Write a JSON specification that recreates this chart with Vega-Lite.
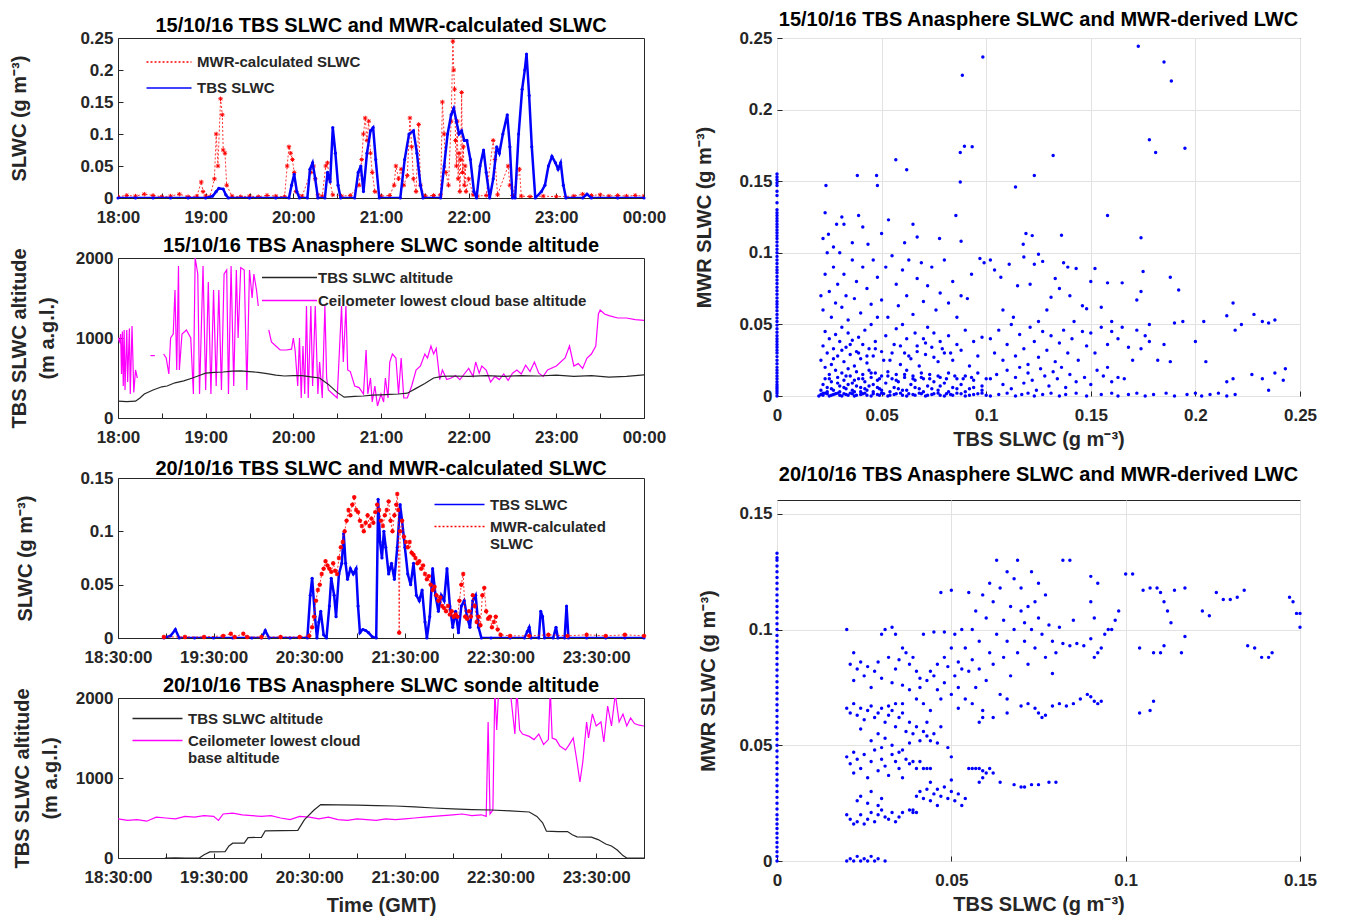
{
  "$schema": "https://vega.github.io/schema/vega-lite/v6.json",
  "background": "white",
  "padding": {"left": 8, "right": 5, "top": 9, "bottom": 3},
  "config": {
    "font": "Liberation Sans",
    "view": {"stroke": "#262626", "strokeWidth": 1},
    "axis": {
      "labelFont": "Liberation Sans", "labelFontSize": 17, "labelFontWeight": "bold", "labelColor": "#262626",
      "titleFont": "Liberation Sans", "titleFontSize": 20, "titleFontWeight": "bold", "titleColor": "#262626", "titleLineHeight": 28,
      "domain": false, "tickColor": "#262626", "tickSize": -5, "grid": false, "labelOverlap": false, "labelFlush": false
    },
    "axisX": {"labelPadding": 16, "titlePadding": 6},
    "axisY": {"labelPadding": 10},
    "title": {"font": "Liberation Sans", "fontSize": 20, "fontWeight": "bold", "color": "black"},
    "legend": {
      "labelFont": "Liberation Sans", "labelFontSize": 15, "labelFontWeight": "bold", "labelColor": "#262626",
      "labelLimit": 400, "symbolType": "M-2,0H2", "symbolStrokeWidth": 1.5, "padding": 4, "rowPadding": 0
    }
  },
  "datasets": {
    "a_tbs": [
      {"t":18.0,"v":0},{"t":18.2,"v":0},{"t":18.4,"v":0},{"t":18.6,"v":0},{"t":18.8,"v":0},{"t":19.0,"v":0},{"t":19.08,"v":0.003},{"t":19.12,"v":0.01},{"t":19.15,"v":0.015},{"t":19.2,"v":0.014},{"t":19.23,"v":0.005},{"t":19.26,"v":0},{"t":19.5,"v":0},{"t":19.8,"v":0},{"t":19.95,"v":0},{"t":19.98,"v":0.02},{"t":20.01,"v":0.037},{"t":20.04,"v":0.01},{"t":20.07,"v":0},{"t":20.16,"v":0},{"t":20.19,"v":0.045},{"t":20.22,"v":0.055},{"t":20.25,"v":0.03},{"t":20.28,"v":0},{"t":20.36,"v":0},{"t":20.39,"v":0.04},{"t":20.42,"v":0.025},{"t":20.45,"v":0.11},{"t":20.48,"v":0.07},{"t":20.51,"v":0.02},{"t":20.54,"v":0},{"t":20.7,"v":0},{"t":20.74,"v":0.04},{"t":20.77,"v":0.05},{"t":20.8,"v":0.01},{"t":20.84,"v":0.07},{"t":20.88,"v":0.105},{"t":20.91,"v":0.11},{"t":20.94,"v":0.06},{"t":20.98,"v":0},{"t":21.22,"v":0},{"t":21.27,"v":0.06},{"t":21.32,"v":0.1},{"t":21.37,"v":0.105},{"t":21.41,"v":0.07},{"t":21.45,"v":0.02},{"t":21.48,"v":0},{"t":21.68,"v":0},{"t":21.72,"v":0.05},{"t":21.76,"v":0.1},{"t":21.8,"v":0.13},{"t":21.83,"v":0.14},{"t":21.86,"v":0.12},{"t":21.89,"v":0.1},{"t":21.92,"v":0.105},{"t":21.95,"v":0.09},{"t":21.98,"v":0.09},{"t":22.02,"v":0.06},{"t":22.06,"v":0.01},{"t":22.09,"v":0},{"t":22.13,"v":0.05},{"t":22.17,"v":0.075},{"t":22.2,"v":0.04},{"t":22.24,"v":0},{"t":22.28,"v":0.03},{"t":22.32,"v":0.08},{"t":22.35,"v":0.07},{"t":22.39,"v":0.1},{"t":22.44,"v":0.13},{"t":22.47,"v":0.08},{"t":22.5,"v":0},{"t":22.53,"v":0},{"t":22.57,"v":0.1},{"t":22.61,"v":0.17},{"t":22.64,"v":0.2},{"t":22.66,"v":0.225},{"t":22.69,"v":0.16},{"t":22.72,"v":0.08},{"t":22.76,"v":0},{"t":22.83,"v":0.01},{"t":22.87,"v":0.02},{"t":22.91,"v":0.05},{"t":22.95,"v":0.065},{"t":22.99,"v":0.055},{"t":23.02,"v":0.045},{"t":23.05,"v":0.055},{"t":23.08,"v":0.02},{"t":23.11,"v":0},{"t":23.3,"v":0},{"t":23.35,"v":0.006},{"t":23.4,"v":0},{"t":23.7,"v":0},{"t":24.0,"v":0}
    ],
    "a_mwr": [
      {"t":18.0,"v":0.002},{"t":18.1,"v":0.004},{"t":18.2,"v":0.003},{"t":18.3,"v":0.006},{"t":18.4,"v":0.004},{"t":18.5,"v":0.002},{"t":18.6,"v":0.003},{"t":18.7,"v":0.006},{"t":18.8,"v":0.002},{"t":18.9,"v":0.003},{"t":18.95,"v":0.025},{"t":18.97,"v":0.01},{"t":19.0,"v":0.003},{"t":19.05,"v":0.002},{"t":19.1,"v":0.03},{"t":19.12,"v":0.1},{"t":19.14,"v":0.05},{"t":19.17,"v":0.155},{"t":19.19,"v":0.13},{"t":19.2,"v":0.075},{"t":19.22,"v":0.07},{"t":19.24,"v":0.02},{"t":19.3,"v":0.003},{"t":19.4,"v":0.002},{"t":19.5,"v":0.003},{"t":19.6,"v":0.002},{"t":19.7,"v":0.004},{"t":19.8,"v":0.003},{"t":19.9,"v":0.002},{"t":19.93,"v":0.05},{"t":19.95,"v":0.08},{"t":19.97,"v":0.07},{"t":19.99,"v":0.06},{"t":20.01,"v":0.04},{"t":20.03,"v":0.01},{"t":20.1,"v":0.003},{"t":20.2,"v":0.04},{"t":20.23,"v":0.05},{"t":20.25,"v":0.03},{"t":20.28,"v":0.005},{"t":20.33,"v":0.003},{"t":20.37,"v":0.05},{"t":20.39,"v":0.055},{"t":20.41,"v":0.03},{"t":20.45,"v":0.005},{"t":20.55,"v":0.003},{"t":20.65,"v":0.004},{"t":20.75,"v":0.02},{"t":20.78,"v":0.06},{"t":20.8,"v":0.1},{"t":20.82,"v":0.125},{"t":20.84,"v":0.09},{"t":20.86,"v":0.12},{"t":20.88,"v":0.07},{"t":20.9,"v":0.04},{"t":20.93,"v":0.01},{"t":21.0,"v":0.003},{"t":21.1,"v":0.004},{"t":21.15,"v":0.02},{"t":21.17,"v":0.05},{"t":21.2,"v":0.03},{"t":21.23,"v":0.045},{"t":21.26,"v":0.02},{"t":21.3,"v":0.035},{"t":21.33,"v":0.125},{"t":21.35,"v":0.08},{"t":21.37,"v":0.03},{"t":21.4,"v":0.01},{"t":21.43,"v":0.115},{"t":21.45,"v":0.02},{"t":21.5,"v":0.003},{"t":21.6,"v":0.004},{"t":21.68,"v":0.005},{"t":21.7,"v":0.15},{"t":21.72,"v":0.1},{"t":21.74,"v":0.04},{"t":21.77,"v":0.02},{"t":21.8,"v":0.12},{"t":21.82,"v":0.245},{"t":21.83,"v":0.2},{"t":21.84,"v":0.17},{"t":21.85,"v":0.09},{"t":21.86,"v":0.05},{"t":21.87,"v":0.12},{"t":21.88,"v":0.03},{"t":21.89,"v":0.07},{"t":21.9,"v":0.01},{"t":21.91,"v":0.06},{"t":21.92,"v":0.165},{"t":21.93,"v":0.04},{"t":21.94,"v":0.08},{"t":21.95,"v":0.02},{"t":21.96,"v":0.05},{"t":21.97,"v":0.01},{"t":22.0,"v":0.03},{"t":22.05,"v":0.005},{"t":22.1,"v":0.003},{"t":22.2,"v":0.004},{"t":22.28,"v":0.09},{"t":22.3,"v":0.06},{"t":22.33,"v":0.005},{"t":22.45,"v":0.05},{"t":22.47,"v":0.02},{"t":22.5,"v":0.004},{"t":22.58,"v":0.045},{"t":22.6,"v":0.003},{"t":22.7,"v":0.002},{"t":22.85,"v":0.003},{"t":23.0,"v":0.002},{"t":23.2,"v":0.003},{"t":23.3,"v":0.006},{"t":23.4,"v":0.004},{"t":23.5,"v":0.005},{"t":23.6,"v":0.003},{"t":23.7,"v":0.004},{"t":23.8,"v":0.003},{"t":23.9,"v":0.004},{"t":24.0,"v":0.003}
    ],
    "b_tbs": [
      {"t":18.0,"v":210},{"t":18.1,"v":205},{"t":18.2,"v":210},{"t":18.25,"v":250},{"t":18.3,"v":300},{"t":18.4,"v":350},{"t":18.5,"v":390},{"t":18.56,"v":400},{"t":18.65,"v":440},{"t":18.75,"v":465},{"t":18.85,"v":500},{"t":18.95,"v":540},{"t":19.0,"v":560},{"t":19.1,"v":570},{"t":19.2,"v":575},{"t":19.3,"v":585},{"t":19.4,"v":590},{"t":19.5,"v":580},{"t":19.6,"v":570},{"t":19.7,"v":555},{"t":19.8,"v":535},{"t":19.9,"v":525},{"t":20.0,"v":530},{"t":20.1,"v":530},{"t":20.2,"v":515},{"t":20.3,"v":500},{"t":20.4,"v":420},{"t":20.5,"v":320},{"t":20.58,"v":260},{"t":20.7,"v":270},{"t":20.8,"v":275},{"t":20.9,"v":285},{"t":21.0,"v":290},{"t":21.1,"v":295},{"t":21.2,"v":300},{"t":21.3,"v":310},{"t":21.4,"v":370},{"t":21.5,"v":430},{"t":21.6,"v":500},{"t":21.7,"v":520},{"t":21.8,"v":525},{"t":22.0,"v":520},{"t":22.2,"v":530},{"t":22.4,"v":520},{"t":22.6,"v":530},{"t":22.8,"v":525},{"t":23.0,"v":535},{"t":23.2,"v":520},{"t":23.4,"v":530},{"t":23.6,"v":510},{"t":23.8,"v":520},{"t":24.0,"v":540}
    ],
    "b_ceil": [
      {"g":1,"t":18.0,"v":1000},{"g":1,"t":18.02,"v":950},{"g":1,"t":18.03,"v":1050},{"g":1,"t":18.04,"v":550},{"g":1,"t":18.05,"v":1080},{"g":1,"t":18.06,"v":400},{"g":1,"t":18.07,"v":1100},{"g":1,"t":18.08,"v":350},{"g":1,"t":18.1,"v":1100},{"g":1,"t":18.11,"v":450},{"g":1,"t":18.13,"v":1120},{"g":1,"t":18.14,"v":300},{"g":1,"t":18.16,"v":1150},{"g":1,"t":18.18,"v":320},{"g":1,"t":18.2,"v":600},{"g":1,"t":18.22,"v":500},
      {"g":2,"t":18.37,"v":780},{"g":2,"t":18.42,"v":780},
      {"g":3,"t":18.52,"v":800},{"g":3,"t":18.55,"v":750},{"g":3,"t":18.58,"v":550},{"g":3,"t":18.6,"v":1000},{"g":3,"t":18.63,"v":1050},{"g":3,"t":18.65,"v":1600},{"g":3,"t":18.67,"v":600},{"g":3,"t":18.69,"v":1900},{"g":3,"t":18.7,"v":600},{"g":3,"t":18.73,"v":1050},{"g":3,"t":18.78,"v":1100},{"g":3,"t":18.83,"v":1000},{"g":3,"t":18.86,"v":300},{"g":3,"t":18.88,"v":2000},{"g":3,"t":18.91,"v":1800},{"g":3,"t":18.93,"v":300},{"g":3,"t":18.97,"v":1900},{"g":3,"t":19.0,"v":350},{"g":3,"t":19.03,"v":1700},{"g":3,"t":19.06,"v":300},{"g":3,"t":19.09,"v":1600},{"g":3,"t":19.12,"v":400},{"g":3,"t":19.15,"v":1600},{"g":3,"t":19.18,"v":350},{"g":3,"t":19.21,"v":1800},{"g":3,"t":19.24,"v":1850},{"g":3,"t":19.26,"v":300},{"g":3,"t":19.29,"v":1900},{"g":3,"t":19.32,"v":400},{"g":3,"t":19.35,"v":1850},{"g":3,"t":19.37,"v":1000},{"g":3,"t":19.4,"v":1880},{"g":3,"t":19.44,"v":1850},{"g":3,"t":19.47,"v":350},{"g":3,"t":19.5,"v":1850},{"g":3,"t":19.53,"v":1500},{"g":3,"t":19.55,"v":1800},{"g":3,"t":19.58,"v":1600},{"g":3,"t":19.6,"v":1400},
      {"g":4,"t":19.72,"v":1100},{"g":4,"t":19.75,"v":950},{"g":4,"t":19.8,"v":900},{"g":4,"t":19.85,"v":850},{"g":4,"t":19.92,"v":850},{"g":4,"t":19.98,"v":860},{"g":4,"t":20.0,"v":1000},{"g":4,"t":20.02,"v":850},{"g":4,"t":20.05,"v":400},{"g":4,"t":20.07,"v":1000},{"g":4,"t":20.09,"v":250},{"g":4,"t":20.11,"v":900},{"g":4,"t":20.13,"v":300},{"g":4,"t":20.15,"v":1400},{"g":4,"t":20.17,"v":250},{"g":4,"t":20.2,"v":1400},{"g":4,"t":20.22,"v":400},{"g":4,"t":20.25,"v":1400},{"g":4,"t":20.28,"v":300},{"g":4,"t":20.3,"v":700},{"g":4,"t":20.33,"v":250},{"g":4,"t":20.36,"v":1400},{"g":4,"t":20.38,"v":500},{"g":4,"t":20.4,"v":350},{"g":4,"t":20.45,"v":300},{"g":4,"t":20.5,"v":250},{"g":4,"t":20.55,"v":1400},{"g":4,"t":20.57,"v":700},{"g":4,"t":20.6,"v":1400},{"g":4,"t":20.62,"v":600},{"g":4,"t":20.65,"v":580},{"g":4,"t":20.7,"v":400},{"g":4,"t":20.75,"v":380},{"g":4,"t":20.8,"v":300},{"g":4,"t":20.83,"v":850},{"g":4,"t":20.85,"v":300},{"g":4,"t":20.88,"v":500},{"g":4,"t":20.9,"v":200},{"g":4,"t":20.93,"v":400},{"g":4,"t":20.96,"v":150},{"g":4,"t":21.0,"v":300},{"g":4,"t":21.03,"v":200},{"g":4,"t":21.05,"v":500},{"g":4,"t":21.08,"v":250},{"g":4,"t":21.1,"v":700},{"g":4,"t":21.13,"v":800},{"g":4,"t":21.17,"v":750},{"g":4,"t":21.2,"v":300},{"g":4,"t":21.23,"v":750},{"g":4,"t":21.26,"v":250},{"g":4,"t":21.3,"v":250},{"g":4,"t":21.35,"v":400},{"g":4,"t":21.4,"v":600},{"g":4,"t":21.45,"v":650},{"g":4,"t":21.5,"v":800},{"g":4,"t":21.53,"v":750},{"g":4,"t":21.57,"v":900},{"g":4,"t":21.6,"v":800},{"g":4,"t":21.63,"v":870},{"g":4,"t":21.67,"v":480},{"g":4,"t":21.7,"v":600},{"g":4,"t":21.75,"v":480},{"g":4,"t":21.8,"v":500},{"g":4,"t":21.85,"v":530},{"g":4,"t":21.9,"v":480},{"g":4,"t":21.95,"v":550},{"g":4,"t":22.0,"v":620},{"g":4,"t":22.05,"v":520},{"g":4,"t":22.08,"v":700},{"g":4,"t":22.12,"v":560},{"g":4,"t":22.15,"v":650},{"g":4,"t":22.2,"v":600},{"g":4,"t":22.25,"v":450},{"g":4,"t":22.3,"v":520},{"g":4,"t":22.35,"v":480},{"g":4,"t":22.4,"v":550},{"g":4,"t":22.45,"v":470},{"g":4,"t":22.5,"v":560},{"g":4,"t":22.55,"v":600},{"g":4,"t":22.6,"v":550},{"g":4,"t":22.65,"v":660},{"g":4,"t":22.7,"v":580},{"g":4,"t":22.75,"v":700},{"g":4,"t":22.8,"v":560},{"g":4,"t":22.85,"v":520},{"g":4,"t":22.9,"v":600},{"g":4,"t":23.0,"v":650},{"g":4,"t":23.1,"v":750},{"g":4,"t":23.15,"v":900},{"g":4,"t":23.2,"v":650},{"g":4,"t":23.25,"v":680},{"g":4,"t":23.3,"v":620},{"g":4,"t":23.35,"v":750},{"g":4,"t":23.4,"v":800},{"g":4,"t":23.45,"v":900},{"g":4,"t":23.48,"v":1300},{"g":4,"t":23.5,"v":1350},{"g":4,"t":23.55,"v":1300},{"g":4,"t":23.6,"v":1280},{"g":4,"t":23.7,"v":1250},{"g":4,"t":23.8,"v":1250},{"g":4,"t":23.9,"v":1230},{"g":4,"t":24.0,"v":1220}
    ],
    "d_tbs": [
      {"t":18.98,"v":0},{"t":19.05,"v":0.002},{"t":19.1,"v":0.008},{"t":19.14,"v":0},{"t":19.3,"v":0},{"t":19.5,"v":0},{"t":19.7,"v":0},{"t":19.9,"v":0},{"t":20.0,"v":0},{"t":20.04,"v":0.007},{"t":20.08,"v":0},{"t":20.3,"v":0},{"t":20.48,"v":0},{"t":20.51,"v":0.04},{"t":20.53,"v":0.056},{"t":20.56,"v":0.02},{"t":20.58,"v":0},{"t":20.6,"v":0.015},{"t":20.62,"v":0.025},{"t":20.65,"v":0.003},{"t":20.68,"v":0},{"t":20.71,"v":0.03},{"t":20.73,"v":0.056},{"t":20.76,"v":0.04},{"t":20.78,"v":0.02},{"t":20.81,"v":0.06},{"t":20.84,"v":0.07},{"t":20.86,"v":0.098},{"t":20.88,"v":0.07},{"t":20.9,"v":0.055},{"t":20.93,"v":0.065},{"t":20.96,"v":0.06},{"t":20.99,"v":0.065},{"t":21.01,"v":0.03},{"t":21.03,"v":0.005},{"t":21.06,"v":0.008},{"t":21.09,"v":0.007},{"t":21.12,"v":0.005},{"t":21.16,"v":0.001},{"t":21.2,"v":0},{"t":21.22,"v":0.13},{"t":21.24,"v":0.09},{"t":21.26,"v":0.075},{"t":21.28,"v":0.1},{"t":21.3,"v":0.085},{"t":21.33,"v":0.06},{"t":21.36,"v":0.07},{"t":21.39,"v":0.055},{"t":21.42,"v":0.085},{"t":21.45,"v":0.125},{"t":21.47,"v":0.11},{"t":21.5,"v":0.085},{"t":21.53,"v":0.06},{"t":21.56,"v":0.05},{"t":21.59,"v":0.07},{"t":21.62,"v":0.04},{"t":21.65,"v":0.035},{"t":21.68,"v":0.045},{"t":21.71,"v":0.015},{"t":21.73,"v":0},{"t":21.76,"v":0.02},{"t":21.79,"v":0.065},{"t":21.82,"v":0.04},{"t":21.85,"v":0.025},{"t":21.88,"v":0.04},{"t":21.91,"v":0.035},{"t":21.94,"v":0.065},{"t":21.97,"v":0.03},{"t":22.0,"v":0.01},{"t":22.03,"v":0.025},{"t":22.06,"v":0.005},{"t":22.09,"v":0.03},{"t":22.12,"v":0.035},{"t":22.15,"v":0.02},{"t":22.18,"v":0.01},{"t":22.21,"v":0.035},{"t":22.24,"v":0.04},{"t":22.27,"v":0.01},{"t":22.3,"v":0},{"t":22.4,"v":0},{"t":22.6,"v":0},{"t":22.75,"v":0},{"t":22.78,"v":0.006},{"t":22.8,"v":0.01},{"t":22.82,"v":0},{"t":22.9,"v":0},{"t":22.92,"v":0.025},{"t":22.94,"v":0.02},{"t":22.96,"v":0},{"t":23.05,"v":0},{"t":23.08,"v":0.01},{"t":23.1,"v":0},{"t":23.17,"v":0},{"t":23.19,"v":0.03},{"t":23.21,"v":0},{"t":23.4,"v":0},{"t":23.6,"v":0},{"t":23.8,"v":0},{"t":24.0,"v":0}
    ],
    "d_mwr": [
      {"t":18.98,"v":0.001},{"t":19.2,"v":0.001},{"t":19.4,"v":0.001},{"t":19.6,"v":0.002},{"t":19.68,"v":0.004},{"t":19.72,"v":0.001},{"t":19.81,"v":0.004},{"t":19.85,"v":0.001},{"t":20.0,"v":0.001},{"t":20.2,"v":0.001},{"t":20.4,"v":0.001},{"t":20.5,"v":0.002},{"t":20.53,"v":0.01},{"t":20.55,"v":0.02},{"t":20.57,"v":0.035},{"t":20.59,"v":0.045},{"t":20.61,"v":0.05},{"t":20.63,"v":0.06},{"t":20.65,"v":0.065},{"t":20.67,"v":0.072},{"t":20.69,"v":0.068},{"t":20.71,"v":0.065},{"t":20.73,"v":0.062},{"t":20.75,"v":0.07},{"t":20.77,"v":0.063},{"t":20.79,"v":0.06},{"t":20.81,"v":0.075},{"t":20.83,"v":0.085},{"t":20.85,"v":0.09},{"t":20.87,"v":0.1},{"t":20.89,"v":0.11},{"t":20.91,"v":0.12},{"t":20.93,"v":0.115},{"t":20.95,"v":0.125},{"t":20.97,"v":0.132},{"t":20.99,"v":0.12},{"t":21.01,"v":0.118},{"t":21.03,"v":0.11},{"t":21.05,"v":0.105},{"t":21.07,"v":0.1},{"t":21.09,"v":0.108},{"t":21.11,"v":0.115},{"t":21.13,"v":0.105},{"t":21.15,"v":0.112},{"t":21.17,"v":0.108},{"t":21.19,"v":0.118},{"t":21.21,"v":0.125},{"t":21.23,"v":0.12},{"t":21.25,"v":0.11},{"t":21.27,"v":0.105},{"t":21.29,"v":0.115},{"t":21.31,"v":0.12},{"t":21.33,"v":0.128},{"t":21.35,"v":0.11},{"t":21.37,"v":0.1},{"t":21.39,"v":0.115},{"t":21.41,"v":0.125},{"t":21.42,"v":0.135},{"t":21.43,"v":0.12},{"t":21.44,"v":0.005},{"t":21.45,"v":0.1},{"t":21.47,"v":0.11},{"t":21.49,"v":0.095},{"t":21.51,"v":0.09},{"t":21.53,"v":0.085},{"t":21.55,"v":0.09},{"t":21.57,"v":0.08},{"t":21.59,"v":0.078},{"t":21.61,"v":0.075},{"t":21.63,"v":0.07},{"t":21.65,"v":0.072},{"t":21.67,"v":0.065},{"t":21.69,"v":0.068},{"t":21.71,"v":0.06},{"t":21.73,"v":0.055},{"t":21.75,"v":0.058},{"t":21.77,"v":0.05},{"t":21.79,"v":0.045},{"t":21.81,"v":0.048},{"t":21.83,"v":0.04},{"t":21.85,"v":0.035},{"t":21.87,"v":0.038},{"t":21.89,"v":0.03},{"t":21.91,"v":0.028},{"t":21.93,"v":0.025},{"t":21.95,"v":0.03},{"t":21.97,"v":0.022},{"t":21.99,"v":0.025},{"t":22.01,"v":0.02},{"t":22.03,"v":0.022},{"t":22.05,"v":0.02},{"t":22.07,"v":0.035},{"t":22.09,"v":0.05},{"t":22.11,"v":0.06},{"t":22.13,"v":0.02},{"t":22.15,"v":0.018},{"t":22.17,"v":0.025},{"t":22.19,"v":0.02},{"t":22.21,"v":0.04},{"t":22.23,"v":0.03},{"t":22.25,"v":0.015},{"t":22.27,"v":0.02},{"t":22.29,"v":0.012},{"t":22.31,"v":0.04},{"t":22.33,"v":0.047},{"t":22.35,"v":0.025},{"t":22.37,"v":0.018},{"t":22.39,"v":0.02},{"t":22.41,"v":0.01},{"t":22.43,"v":0.015},{"t":22.45,"v":0.02},{"t":22.47,"v":0.008},{"t":22.5,"v":0.003},{"t":22.6,"v":0.002},{"t":22.8,"v":0.002},{"t":23.0,"v":0.003},{"t":23.2,"v":0.002},{"t":23.4,"v":0.003},{"t":23.6,"v":0.002},{"t":23.8,"v":0.003},{"t":24.0,"v":0.002}
    ],
    "e_tbs": [
      {"t":18.99,"v":0},{"t":19.1,"v":2},{"t":19.2,"v":0},{"t":19.35,"v":0},{"t":19.4,"v":40},{"t":19.46,"v":76},{"t":19.62,"v":80},{"t":19.66,"v":150},{"t":19.7,"v":185},{"t":19.82,"v":185},{"t":19.86,"v":255},{"t":20.0,"v":258},{"t":20.04,"v":340},{"t":20.38,"v":345},{"t":20.45,"v":480},{"t":20.55,"v":600},{"t":20.62,"v":668},{"t":20.8,"v":665},{"t":21.0,"v":660},{"t":21.2,"v":655},{"t":21.4,"v":650},{"t":21.6,"v":640},{"t":21.8,"v":625},{"t":22.0,"v":615},{"t":22.2,"v":605},{"t":22.4,"v":600},{"t":22.6,"v":590},{"t":22.8,"v":575},{"t":22.88,"v":520},{"t":22.94,"v":440},{"t":22.98,"v":335},{"t":23.1,"v":330},{"t":23.2,"v":330},{"t":23.25,"v":290},{"t":23.3,"v":265},{"t":23.45,"v":260},{"t":23.52,"v":230},{"t":23.6,"v":175},{"t":23.66,"v":150},{"t":23.72,"v":100},{"t":23.78,"v":30},{"t":23.82,"v":0},{"t":24.0,"v":0}
    ],
    "e_ceil": [
      {"t":18.5,"v":490},{"t":18.6,"v":470},{"t":18.7,"v":480},{"t":18.8,"v":460},{"t":18.9,"v":510},{"t":19.0,"v":500},{"t":19.1,"v":490},{"t":19.2,"v":520},{"t":19.3,"v":510},{"t":19.4,"v":530},{"t":19.5,"v":520},{"t":19.55,"v":470},{"t":19.6,"v":550},{"t":19.7,"v":560},{"t":19.8,"v":540},{"t":19.9,"v":530},{"t":20.0,"v":520},{"t":20.1,"v":530},{"t":20.2,"v":500},{"t":20.3,"v":480},{"t":20.4,"v":520},{"t":20.5,"v":510},{"t":20.6,"v":490},{"t":20.7,"v":510},{"t":20.8,"v":480},{"t":20.9,"v":470},{"t":21.0,"v":490},{"t":21.1,"v":480},{"t":21.2,"v":470},{"t":21.3,"v":490},{"t":21.4,"v":480},{"t":21.5,"v":490},{"t":21.6,"v":500},{"t":21.7,"v":510},{"t":21.8,"v":520},{"t":21.9,"v":530},{"t":22.0,"v":540},{"t":22.1,"v":550},{"t":22.2,"v":530},{"t":22.3,"v":540},{"t":22.35,"v":520},{"t":22.37,"v":1700},{"t":22.39,"v":550},{"t":22.42,"v":600},{"t":22.44,"v":2100},{"t":22.46,"v":1600},{"t":22.48,"v":2100},{"t":22.5,"v":2100},{"t":22.55,"v":2100},{"t":22.6,"v":2100},{"t":22.65,"v":1550},{"t":22.67,"v":2100},{"t":22.7,"v":1600},{"t":22.73,"v":1550},{"t":22.8,"v":1520},{"t":22.85,"v":1480},{"t":22.9,"v":1550},{"t":22.95,"v":1420},{"t":23.0,"v":1480},{"t":23.02,"v":2100},{"t":23.04,"v":1500},{"t":23.08,"v":1480},{"t":23.12,"v":1400},{"t":23.18,"v":1350},{"t":23.22,"v":1420},{"t":23.26,"v":1500},{"t":23.3,"v":1200},{"t":23.33,"v":950},{"t":23.36,"v":1200},{"t":23.4,"v":1700},{"t":23.42,"v":1500},{"t":23.46,"v":1800},{"t":23.5,"v":1650},{"t":23.55,"v":1700},{"t":23.58,"v":1450},{"t":23.62,"v":1900},{"t":23.66,"v":1650},{"t":23.7,"v":2050},{"t":23.74,"v":1700},{"t":23.78,"v":1800},{"t":23.82,"v":1650},{"t":23.86,"v":1750},{"t":23.9,"v":1680},{"t":23.95,"v":1660},{"t":24.0,"v":1650}
    ],
    "c_pts": [
      {"x":0,"y":0},{"x":0,"y":0.002},{"x":0,"y":0.005},{"x":0,"y":0.008},{"x":0,"y":0.012},{"x":0,"y":0.016},{"x":0,"y":0.02},{"x":0,"y":0.025},{"x":0,"y":0.03},{"x":0,"y":0.034},{"x":0,"y":0.038},{"x":0,"y":0.042},{"x":0,"y":0.047},{"x":0,"y":0.052},{"x":0,"y":0.057},{"x":0,"y":0.062},{"x":0,"y":0.066},{"x":0,"y":0.071},{"x":0,"y":0.076},{"x":0,"y":0.081},{"x":0,"y":0.086},{"x":0,"y":0.09},{"x":0,"y":0.095},{"x":0,"y":0.1},{"x":0,"y":0.105},{"x":0,"y":0.11},{"x":0,"y":0.114},{"x":0,"y":0.118},{"x":0,"y":0.122},{"x":0,"y":0.126},{"x":0,"y":0.13},{"x":0,"y":0.14},{"x":0,"y":0.147},{"x":0,"y":0.151},{"x":0,"y":0.155},
      {"x":0,"y":0.0035},{"x":0,"y":0.0065},{"x":0,"y":0.01},{"x":0,"y":0.014},{"x":0,"y":0.018},{"x":0,"y":0.0225},{"x":0,"y":0.0275},{"x":0,"y":0.032},{"x":0,"y":0.036},{"x":0,"y":0.04},{"x":0,"y":0.0445},{"x":0,"y":0.0495},{"x":0,"y":0.0545},{"x":0,"y":0.0595},{"x":0,"y":0.064},{"x":0,"y":0.0685},{"x":0,"y":0.0735},{"x":0,"y":0.0785},{"x":0,"y":0.0835},{"x":0,"y":0.088},{"x":0,"y":0.0925},{"x":0,"y":0.0975},{"x":0,"y":0.1025},{"x":0,"y":0.1075},{"x":0,"y":0.112},{"x":0,"y":0.116},{"x":0,"y":0.12},{"x":0,"y":0.124},{"x":0,"y":0.128},{"x":0,"y":0.135},{"x":0,"y":0.143},{"x":0,"y":0.149},{"x":0,"y":0.153},
      {"x":0.02,"y":0},{"x":0.021,"y":0.001},{"x":0.023,"y":0.002},{"x":0.025,"y":0},{"x":0.027,"y":0.001},{"x":0.029,"y":0.002},{"x":0.031,"y":0},{"x":0.033,"y":0.001},{"x":0.035,"y":0.002},{"x":0.037,"y":0},{"x":0.04,"y":0.001},{"x":0.042,"y":0.002},{"x":0.045,"y":0},{"x":0.048,"y":0.001},{"x":0.05,"y":0.002},{"x":0.053,"y":0},{"x":0.056,"y":0.001},{"x":0.059,"y":0.002},{"x":0.062,"y":0},{"x":0.065,"y":0.001},{"x":0.068,"y":0.002},{"x":0.071,"y":0},{"x":0.074,"y":0.001},{"x":0.077,"y":0.002},{"x":0.08,"y":0},{"x":0.083,"y":0.001},{"x":0.086,"y":0.002},{"x":0.09,"y":0},{"x":0.094,"y":0.001},{"x":0.098,"y":0.002},{"x":0.102,"y":0},{"x":0.106,"y":0.001},{"x":0.11,"y":0.002},{"x":0.114,"y":0},{"x":0.117,"y":0.001},{"x":0.12,"y":0.002},{"x":0.123,"y":0},{"x":0.127,"y":0.001},{"x":0.131,"y":0.002},{"x":0.135,"y":0},{"x":0.138,"y":0.001},{"x":0.143,"y":0.002},{"x":0.148,"y":0},{"x":0.155,"y":0.001},{"x":0.16,"y":0.002},{"x":0.163,"y":0},{"x":0.168,"y":0.001},{"x":0.172,"y":0.002},{"x":0.176,"y":0},{"x":0.18,"y":0.001},{"x":0.186,"y":0.002},{"x":0.19,"y":0},{"x":0.196,"y":0.001},{"x":0.2,"y":0.002},{"x":0.203,"y":0},{"x":0.207,"y":0.001},{"x":0.211,"y":0.002},{"x":0.215,"y":0},{"x":0.219,"y":0.001},
      {"x":0.022,"y":0.0005},{"x":0.024,"y":0.0015},{"x":0.026,"y":0.0005},{"x":0.028,"y":0.0015},{"x":0.03,"y":0.0005},{"x":0.032,"y":0.0015},{"x":0.034,"y":0.0005},{"x":0.036,"y":0.0015},{"x":0.038,"y":0.0005},{"x":0.041,"y":0.0015},{"x":0.043,"y":0.0005},{"x":0.046,"y":0.0015},{"x":0.049,"y":0.0005},{"x":0.051,"y":0.0015},{"x":0.054,"y":0.0005},{"x":0.057,"y":0.0015},{"x":0.06,"y":0.0005},{"x":0.063,"y":0.0015},{"x":0.066,"y":0.0005},{"x":0.069,"y":0.0015},{"x":0.072,"y":0.0005},{"x":0.075,"y":0.0015},{"x":0.078,"y":0.0005},{"x":0.081,"y":0.0015},{"x":0.084,"y":0.0005},{"x":0.088,"y":0.0015},{"x":0.092,"y":0.0005},{"x":0.096,"y":0.0015},{"x":0.1,"y":0.0005},
      {"x":0.022,"y":0.002},{"x":0.024,"y":0.003},{"x":0.026,"y":0.005},{"x":0.03,"y":0.003},{"x":0.032,"y":0.006},{"x":0.034,"y":0.008},{"x":0.036,"y":0.004},{"x":0.038,"y":0.007},{"x":0.04,"y":0.003},{"x":0.042,"y":0.005},{"x":0.044,"y":0.007},{"x":0.046,"y":0.003},{"x":0.048,"y":0.006},{"x":0.05,"y":0.004},{"x":0.054,"y":0.003},{"x":0.058,"y":0.005},{"x":0.062,"y":0.004},{"x":0.066,"y":0.006},{"x":0.07,"y":0.003},{"x":0.074,"y":0.005},{"x":0.078,"y":0.007},{"x":0.082,"y":0.003},{"x":0.086,"y":0.005},{"x":0.09,"y":0.003},{"x":0.094,"y":0.006},{"x":0.098,"y":0.004},{"x":0.023,"y":0.02},{"x":0.027,"y":0.026},{"x":0.031,"y":0.032},{"x":0.035,"y":0.036},{"x":0.039,"y":0.03},{"x":0.043,"y":0.028},{"x":0.047,"y":0.033},{"x":0.051,"y":0.025},{"x":0.055,"y":0.03},{"x":0.059,"y":0.035},{"x":0.063,"y":0.028},{"x":0.067,"y":0.031},{"x":0.071,"y":0.037},{"x":0.075,"y":0.027},{"x":0.079,"y":0.033},{"x":0.083,"y":0.03},{"x":0.025,"y":0.012},{"x":0.029,"y":0.009},{"x":0.033,"y":0.014},{"x":0.037,"y":0.011},{"x":0.041,"y":0.012},{"x":0.045,"y":0.016},{"x":0.049,"y":0.012},{"x":0.053,"y":0.014},{"x":0.057,"y":0.011},{"x":0.061,"y":0.015},{"x":0.065,"y":0.012},{"x":0.069,"y":0.013},{"x":0.073,"y":0.012},{"x":0.077,"y":0.014},{"x":0.081,"y":0.012},{"x":0.085,"y":0.014},{"x":0.089,"y":0.012},{"x":0.093,"y":0.013},
      {"x":0.021,"y":0.004},{"x":0.022,"y":0.008},{"x":0.023,"y":0.012},{"x":0.024,"y":0.006},{"x":0.025,"y":0.015},{"x":0.026,"y":0.01},{"x":0.027,"y":0.004},{"x":0.028,"y":0.018},{"x":0.029,"y":0.013},{"x":0.03,"y":0.007},{"x":0.031,"y":0.016},{"x":0.032,"y":0.011},{"x":0.033,"y":0.005},{"x":0.034,"y":0.019},{"x":0.035,"y":0.014},{"x":0.036,"y":0.009},{"x":0.037,"y":0.003},{"x":0.038,"y":0.017},{"x":0.039,"y":0.012},{"x":0.04,"y":0.006},{"x":0.041,"y":0.015},{"x":0.042,"y":0.01},{"x":0.043,"y":0.004},{"x":0.044,"y":0.018},{"x":0.045,"y":0.013},{"x":0.046,"y":0.008},{"x":0.047,"y":0.016},{"x":0.048,"y":0.011},{"x":0.049,"y":0.005},{"x":0.05,"y":0.014},{"x":0.052,"y":0.009},{"x":0.053,"y":0.017},{"x":0.055,"y":0.012},{"x":0.056,"y":0.006},{"x":0.057,"y":0.015},{"x":0.058,"y":0.01},{"x":0.06,"y":0.004},{"x":0.061,"y":0.013},{"x":0.062,"y":0.018},{"x":0.064,"y":0.008},{"x":0.065,"y":0.014},{"x":0.066,"y":0.011},{"x":0.068,"y":0.005},{"x":0.069,"y":0.016},{"x":0.07,"y":0.012},{"x":0.072,"y":0.007},{"x":0.073,"y":0.015},{"x":0.075,"y":0.01},{"x":0.077,"y":0.004},{"x":0.078,"y":0.013},{"x":0.08,"y":0.009},{"x":0.082,"y":0.016},{"x":0.084,"y":0.006},{"x":0.086,"y":0.012},{"x":0.088,"y":0.008},{"x":0.09,"y":0.014},{"x":0.092,"y":0.005},{"x":0.094,"y":0.011},{"x":0.096,"y":0.016},{"x":0.098,"y":0.007},{"x":0.1,"y":0.012},
      {"x":0.021,"y":0.025},{"x":0.022,"y":0.035},{"x":0.023,"y":0.045},{"x":0.024,"y":0.03},{"x":0.025,"y":0.04},{"x":0.026,"y":0.022},{"x":0.027,"y":0.033},{"x":0.028,"y":0.043},{"x":0.029,"y":0.028},{"x":0.03,"y":0.038},{"x":0.031,"y":0.048},{"x":0.032,"y":0.024},{"x":0.033,"y":0.034},{"x":0.034,"y":0.044},{"x":0.035,"y":0.029},{"x":0.036,"y":0.039},{"x":0.037,"y":0.021},{"x":0.038,"y":0.031},{"x":0.039,"y":0.041},{"x":0.04,"y":0.026},{"x":0.041,"y":0.036},{"x":0.042,"y":0.046},{"x":0.043,"y":0.023},{"x":0.044,"y":0.033},{"x":0.045,"y":0.05},{"x":0.046,"y":0.028},{"x":0.047,"y":0.038},{"x":0.048,"y":0.055},{"x":0.05,"y":0.031},{"x":0.052,"y":0.042},{"x":0.054,"y":0.025},{"x":0.056,"y":0.036},{"x":0.057,"y":0.047},{"x":0.059,"y":0.022},{"x":0.06,"y":0.05},{"x":0.061,"y":0.03},{"x":0.062,"y":0.04},{"x":0.064,"y":0.026},{"x":0.066,"y":0.044},{"x":0.067,"y":0.035},{"x":0.068,"y":0.021},{"x":0.07,"y":0.04},{"x":0.071,"y":0.029},{"x":0.072,"y":0.048},{"x":0.074,"y":0.034},{"x":0.075,"y":0.044},{"x":0.077,"y":0.024},{"x":0.078,"y":0.038},{"x":0.08,"y":0.03},{"x":0.082,"y":0.042},{"x":0.084,"y":0.025},{"x":0.086,"y":0.036},{"x":0.088,"y":0.032},{"x":0.09,"y":0.046},{"x":0.092,"y":0.021},{"x":0.094,"y":0.038},{"x":0.096,"y":0.028},{"x":0.098,"y":0.041},
      {"x":0.021,"y":0.07},{"x":0.022,"y":0.06},{"x":0.023,"y":0.085},{"x":0.024,"y":0.1},{"x":0.025,"y":0.073},{"x":0.026,"y":0.055},{"x":0.027,"y":0.09},{"x":0.028,"y":0.065},{"x":0.029,"y":0.078},{"x":0.03,"y":0.1},{"x":0.031,"y":0.062},{"x":0.032,"y":0.085},{"x":0.033,"y":0.07},{"x":0.034,"y":0.053},{"x":0.036,"y":0.095},{"x":0.037,"y":0.068},{"x":0.038,"y":0.08},{"x":0.04,"y":0.058},{"x":0.041,"y":0.09},{"x":0.043,"y":0.075},{"x":0.045,"y":0.064},{"x":0.046,"y":0.095},{"x":0.048,"y":0.083},{"x":0.05,"y":0.067},{"x":0.052,"y":0.09},{"x":0.053,"y":0.055},{"x":0.055,"y":0.098},{"x":0.057,"y":0.078},{"x":0.058,"y":0.063},{"x":0.06,"y":0.088},{"x":0.062,"y":0.07},{"x":0.063,"y":0.095},{"x":0.065,"y":0.057},{"x":0.067,"y":0.082},{"x":0.069,"y":0.093},{"x":0.07,"y":0.066},{"x":0.072,"y":0.077},{"x":0.074,"y":0.09},{"x":0.076,"y":0.06},{"x":0.078,"y":0.072},{"x":0.08,"y":0.095},{"x":0.082,"y":0.065},{"x":0.084,"y":0.08},{"x":0.086,"y":0.055},{"x":0.088,"y":0.07},{"x":0.091,"y":0.068},{"x":0.093,"y":0.085},{"x":0.097,"y":0.096},{"x":0.099,"y":0.093},
      {"x":0.022,"y":0.11},{"x":0.0246,"y":0.113},{"x":0.023,"y":0.128},{"x":0.0285,"y":0.12},{"x":0.032,"y":0.12},{"x":0.031,"y":0.125},{"x":0.039,"y":0.126},{"x":0.036,"y":0.107},{"x":0.0435,"y":0.106},{"x":0.05,"y":0.1135},{"x":0.0533,"y":0.123},{"x":0.061,"y":0.107},{"x":0.065,"y":0.12},{"x":0.067,"y":0.111},{"x":0.0777,"y":0.11},{"x":0.0855,"y":0.126},{"x":0.088,"y":0.108},{"x":0.027,"y":0.104},{"x":0.041,"y":0.118},
      {"x":0.0234,"y":0.147},{"x":0.0384,"y":0.154},{"x":0.0476,"y":0.154},{"x":0.048,"y":0.147},{"x":0.0568,"y":0.165},{"x":0.062,"y":0.158},{"x":0.0876,"y":0.1495},{"x":0.0876,"y":0.17},{"x":0.0896,"y":0.1744},{"x":0.0933,"y":0.174},{"x":0.0886,"y":0.224},{"x":0.0984,"y":0.2367},
      {"x":0.102,"y":0.012},{"x":0.105,"y":0.015},{"x":0.108,"y":0.008},{"x":0.11,"y":0.018},{"x":0.112,"y":0.005},{"x":0.114,"y":0.013},{"x":0.116,"y":0.02},{"x":0.118,"y":0.009},{"x":0.12,"y":0.016},{"x":0.122,"y":0.011},{"x":0.124,"y":0.004},{"x":0.126,"y":0.019},{"x":0.128,"y":0.014},{"x":0.13,"y":0.007},{"x":0.132,"y":0.017},{"x":0.134,"y":0.012},{"x":0.136,"y":0.02},{"x":0.138,"y":0.006},{"x":0.14,"y":0.015},{"x":0.143,"y":0.01},{"x":0.147,"y":0.013},{"x":0.15,"y":0.008},{"x":0.153,"y":0.018},{"x":0.156,"y":0.014},{"x":0.158,"y":0.02},{"x":0.16,"y":0.01},{"x":0.163,"y":0.013},{"x":0.166,"y":0.012},{"x":0.215,"y":0.01},{"x":0.218,"y":0.012},{"x":0.227,"y":0.015},{"x":0.232,"y":0.012},{"x":0.235,"y":0.004},{"x":0.238,"y":0.016},{"x":0.242,"y":0.011},{"x":0.243,"y":0.019},
      {"x":0.102,"y":0.04},{"x":0.104,"y":0.03},{"x":0.106,"y":0.046},{"x":0.108,"y":0.025},{"x":0.11,"y":0.036},{"x":0.112,"y":0.05},{"x":0.114,"y":0.028},{"x":0.116,"y":0.043},{"x":0.118,"y":0.033},{"x":0.12,"y":0.022},{"x":0.121,"y":0.048},{"x":0.123,"y":0.038},{"x":0.125,"y":0.027},{"x":0.127,"y":0.045},{"x":0.129,"y":0.032},{"x":0.131,"y":0.042},{"x":0.133,"y":0.024},{"x":0.135,"y":0.037},{"x":0.137,"y":0.046},{"x":0.139,"y":0.03},{"x":0.141,"y":0.04},{"x":0.144,"y":0.025},{"x":0.146,"y":0.045},{"x":0.148,"y":0.035},{"x":0.15,"y":0.044},{"x":0.152,"y":0.03},{"x":0.155,"y":0.048},{"x":0.158,"y":0.036},{"x":0.16,"y":0.045},{"x":0.163,"y":0.04},{"x":0.165,"y":0.048},{"x":0.168,"y":0.034},{"x":0.17,"y":0.025},{"x":0.172,"y":0.046},{"x":0.174,"y":0.033},{"x":0.176,"y":0.042},{"x":0.178,"y":0.038},{"x":0.182,"y":0.025},{"x":0.185,"y":0.036},{"x":0.188,"y":0.024},{"x":0.19,"y":0.051},{"x":0.194,"y":0.052},{"x":0.2,"y":0.038},{"x":0.204,"y":0.052},{"x":0.205,"y":0.024},{"x":0.219,"y":0.046},{"x":0.218,"y":0.065},{"x":0.215,"y":0.056},{"x":0.222,"y":0.05},{"x":0.228,"y":0.057},{"x":0.232,"y":0.052},{"x":0.235,"y":0.051},{"x":0.238,"y":0.053},
      {"x":0.102,"y":0.095},{"x":0.104,"y":0.088},{"x":0.107,"y":0.083},{"x":0.111,"y":0.092},{"x":0.115,"y":0.077},{"x":0.118,"y":0.097},{"x":0.121,"y":0.078},{"x":0.123,"y":0.092},{"x":0.125,"y":0.099},{"x":0.127,"y":0.094},{"x":0.129,"y":0.06},{"x":0.131,"y":0.069},{"x":0.133,"y":0.082},{"x":0.135,"y":0.075},{"x":0.137,"y":0.093},{"x":0.139,"y":0.09},{"x":0.14,"y":0.07},{"x":0.143,"y":0.089},{"x":0.146,"y":0.063},{"x":0.148,"y":0.061},{"x":0.15,"y":0.08},{"x":0.152,"y":0.089},{"x":0.155,"y":0.062},{"x":0.158,"y":0.079},{"x":0.165,"y":0.079},{"x":0.172,"y":0.067},{"x":0.174,"y":0.073},{"x":0.175,"y":0.087},{"x":0.188,"y":0.083},{"x":0.192,"y":0.074},{"x":0.108,"y":0.06},{"x":0.113,"y":0.055},{"x":0.125,"y":0.052},{"x":0.142,"y":0.052},{"x":0.16,"y":0.052},{"x":0.178,"y":0.05},
      {"x":0.114,"y":0.146},{"x":0.1177,"y":0.106},{"x":0.119,"y":0.1135},{"x":0.122,"y":0.112},{"x":0.123,"y":0.154},{"x":0.132,"y":0.168},{"x":0.136,"y":0.1123},{"x":0.158,"y":0.126},{"x":0.174,"y":0.1105},{"x":0.1727,"y":0.2442},{"x":0.185,"y":0.2333},{"x":0.1885,"y":0.22},{"x":0.178,"y":0.179},{"x":0.181,"y":0.17},{"x":0.195,"y":0.173}
    ],
    "f_pts": [
      {"x":0,"y":0},{"x":0,"y":0.004},{"x":0,"y":0.008},{"x":0,"y":0.012},{"x":0,"y":0.016},{"x":0,"y":0.02},{"x":0,"y":0.025},{"x":0,"y":0.03},{"x":0,"y":0.035},{"x":0,"y":0.04},{"x":0,"y":0.045},{"x":0,"y":0.05},{"x":0,"y":0.055},{"x":0,"y":0.06},{"x":0,"y":0.065},{"x":0,"y":0.07},{"x":0,"y":0.075},{"x":0,"y":0.08},{"x":0,"y":0.085},{"x":0,"y":0.09},{"x":0,"y":0.095},{"x":0,"y":0.1},{"x":0,"y":0.105},{"x":0,"y":0.11},{"x":0,"y":0.115},{"x":0,"y":0.12},{"x":0,"y":0.125},{"x":0,"y":0.13},{"x":0,"y":0.133},
      {"x":0,"y":0.002},{"x":0,"y":0.006},{"x":0,"y":0.01},{"x":0,"y":0.014},{"x":0,"y":0.018},{"x":0,"y":0.0225},{"x":0,"y":0.0275},{"x":0,"y":0.0325},{"x":0,"y":0.0375},{"x":0,"y":0.0425},{"x":0,"y":0.0475},{"x":0,"y":0.0525},{"x":0,"y":0.0575},{"x":0,"y":0.0625},{"x":0,"y":0.0675},{"x":0,"y":0.0725},{"x":0,"y":0.0775},{"x":0,"y":0.0825},{"x":0,"y":0.0875},{"x":0,"y":0.0925},{"x":0,"y":0.0975},{"x":0,"y":0.1025},{"x":0,"y":0.1075},{"x":0,"y":0.1125},{"x":0,"y":0.1175},{"x":0,"y":0.1225},{"x":0,"y":0.1275},{"x":0,"y":0.131},
      {"x":0.02,"y":0},{"x":0.021,"y":0.001},{"x":0.022,"y":0},{"x":0.023,"y":0.002},{"x":0.024,"y":0},{"x":0.025,"y":0.001},{"x":0.026,"y":0},{"x":0.027,"y":0.002},{"x":0.028,"y":0},{"x":0.029,"y":0.001},{"x":0.031,"y":0},
      {"x":0.02,"y":0.02},{"x":0.021,"y":0.018},{"x":0.022,"y":0.016},{"x":0.023,"y":0.017},{"x":0.024,"y":0.02},{"x":0.025,"y":0.016},{"x":0.026,"y":0.018},{"x":0.027,"y":0.021},{"x":0.028,"y":0.017},{"x":0.029,"y":0.02},{"x":0.03,"y":0.022},{"x":0.031,"y":0.019},{"x":0.032,"y":0.018},{"x":0.033,"y":0.021},{"x":0.034,"y":0.017},{"x":0.035,"y":0.019},{"x":0.036,"y":0.021},{"x":0.038,"y":0.022},{"x":0.039,"y":0.021},{"x":0.023,"y":0.026},{"x":0.024,"y":0.028},{"x":0.026,"y":0.025},{"x":0.027,"y":0.03},{"x":0.029,"y":0.024},{"x":0.03,"y":0.027},
      {"x":0.02,"y":0.045},{"x":0.021,"y":0.042},{"x":0.022,"y":0.038},{"x":0.022,"y":0.047},{"x":0.023,"y":0.044},{"x":0.024,"y":0.04},{"x":0.025,"y":0.046},{"x":0.026,"y":0.036},{"x":0.027,"y":0.043},{"x":0.028,"y":0.048},{"x":0.029,"y":0.039},{"x":0.03,"y":0.044},{"x":0.031,"y":0.041},{"x":0.032,"y":0.037},{"x":0.033,"y":0.046},{"x":0.034,"y":0.043},{"x":0.035,"y":0.04},{"x":0.036,"y":0.048},{"x":0.037,"y":0.044},{"x":0.038,"y":0.042},{"x":0.039,"y":0.043},{"x":0.04,"y":0.04},{"x":0.041,"y":0.043},{"x":0.042,"y":0.04},{"x":0.043,"y":0.04},{"x":0.044,"y":0.04},{"x":0.036,"y":0.036},{"x":0.03,"y":0.049},
      {"x":0.02,"y":0.066},{"x":0.021,"y":0.064},{"x":0.022,"y":0.068},{"x":0.023,"y":0.063},{"x":0.024,"y":0.066},{"x":0.025,"y":0.061},{"x":0.026,"y":0.065},{"x":0.027,"y":0.067},{"x":0.028,"y":0.062},{"x":0.029,"y":0.064},{"x":0.03,"y":0.066},{"x":0.031,"y":0.06},{"x":0.032,"y":0.063},{"x":0.033,"y":0.065},{"x":0.034,"y":0.058},{"x":0.035,"y":0.062},{"x":0.036,"y":0.064},{"x":0.037,"y":0.056},{"x":0.038,"y":0.06},{"x":0.039,"y":0.055},{"x":0.04,"y":0.058},{"x":0.041,"y":0.052},{"x":0.042,"y":0.056},{"x":0.043,"y":0.054},{"x":0.044,"y":0.052},{"x":0.045,"y":0.055},{"x":0.046,"y":0.051},{"x":0.024,"y":0.057},{"x":0.027,"y":0.052},{"x":0.029,"y":0.055},{"x":0.031,"y":0.053},{"x":0.033,"y":0.05},{"x":0.035,"y":0.047},{"x":0.038,"y":0.051},{"x":0.036,"y":0.068},{"x":0.034,"y":0.068},{"x":0.032,"y":0.067},
      {"x":0.02,"y":0.1},{"x":0.021,"y":0.085},{"x":0.022,"y":0.078},{"x":0.022,"y":0.09},{"x":0.023,"y":0.083},{"x":0.024,"y":0.086},{"x":0.025,"y":0.08},{"x":0.026,"y":0.084},{"x":0.027,"y":0.075},{"x":0.028,"y":0.082},{"x":0.029,"y":0.086},{"x":0.03,"y":0.079},{"x":0.03,"y":0.098},{"x":0.031,"y":0.1},{"x":0.032,"y":0.088},{"x":0.033,"y":0.101},{"x":0.034,"y":0.083},{"x":0.034,"y":0.098},{"x":0.035,"y":0.087},{"x":0.036,"y":0.092},{"x":0.037,"y":0.09},{"x":0.038,"y":0.085},{"x":0.039,"y":0.088},{"x":0.04,"y":0.082},{"x":0.041,"y":0.079},{"x":0.033,"y":0.077},{"x":0.036,"y":0.076},{"x":0.038,"y":0.074},
      {"x":0.039,"y":0.022},{"x":0.04,"y":0.021},{"x":0.04,"y":0.028},{"x":0.041,"y":0.03},{"x":0.042,"y":0.027},{"x":0.043,"y":0.031},{"x":0.044,"y":0.034},{"x":0.044,"y":0.026},{"x":0.045,"y":0.029},{"x":0.046,"y":0.031},{"x":0.046,"y":0.024},{"x":0.047,"y":0.028},{"x":0.048,"y":0.032},{"x":0.049,"y":0.027},{"x":0.05,"y":0.03},{"x":0.05,"y":0.035},{"x":0.051,"y":0.026},{"x":0.052,"y":0.029},{"x":0.053,"y":0.024},{"x":0.054,"y":0.027},{"x":0.055,"y":0.04},{"x":0.056,"y":0.04},{"x":0.057,"y":0.04},{"x":0.058,"y":0.04},{"x":0.059,"y":0.039},{"x":0.06,"y":0.038},{"x":0.061,"y":0.04},{"x":0.062,"y":0.038},{"x":0.058,"y":0.034},{"x":0.059,"y":0.036},{"x":0.064,"y":0.034},{"x":0.068,"y":0.033},{"x":0.07,"y":0.032},{"x":0.071,"y":0.032},{"x":0.073,"y":0.033},{"x":0.075,"y":0.033},{"x":0.078,"y":0.034},{"x":0.08,"y":0.034},{"x":0.05,"y":0.045},{"x":0.049,"y":0.049},
      {"x":0.04,"y":0.07},{"x":0.041,"y":0.075},{"x":0.042,"y":0.068},{"x":0.043,"y":0.078},{"x":0.044,"y":0.082},{"x":0.044,"y":0.065},{"x":0.045,"y":0.08},{"x":0.046,"y":0.074},{"x":0.046,"y":0.085},{"x":0.047,"y":0.07},{"x":0.048,"y":0.088},{"x":0.048,"y":0.077},{"x":0.049,"y":0.084},{"x":0.05,"y":0.072},{"x":0.05,"y":0.092},{"x":0.051,"y":0.08},{"x":0.051,"y":0.098},{"x":0.052,"y":0.086},{"x":0.052,"y":0.075},{"x":0.053,"y":0.1},{"x":0.053,"y":0.083},{"x":0.054,"y":0.092},{"x":0.054,"y":0.07},{"x":0.055,"y":0.082},{"x":0.055,"y":0.116},{"x":0.056,"y":0.1},{"x":0.056,"y":0.087},{"x":0.057,"y":0.075},{"x":0.057,"y":0.108},{"x":0.058,"y":0.083},{"x":0.058,"y":0.095},{"x":0.059,"y":0.115},{"x":0.059,"y":0.062},{"x":0.06,"y":0.078},{"x":0.06,"y":0.105},{"x":0.061,"y":0.09},{"x":0.061,"y":0.12},{"x":0.062,"y":0.085},{"x":0.062,"y":0.112},{"x":0.063,"y":0.098},{"x":0.063,"y":0.13},{"x":0.064,"y":0.072},{"x":0.064,"y":0.118},{"x":0.065,"y":0.104},{"x":0.065,"y":0.088},{"x":0.066,"y":0.125},{"x":0.066,"y":0.095},{"x":0.067,"y":0.11},{"x":0.067,"y":0.08},{"x":0.068,"y":0.122},{"x":0.068,"y":0.1},{"x":0.069,"y":0.09},{"x":0.069,"y":0.13},{"x":0.07,"y":0.108},{"x":0.07,"y":0.118},{"x":0.071,"y":0.095},{"x":0.071,"y":0.103},{"x":0.072,"y":0.11},{"x":0.072,"y":0.085},{"x":0.073,"y":0.125},{"x":0.073,"y":0.1},{"x":0.074,"y":0.112},{"x":0.074,"y":0.092},{"x":0.075,"y":0.12},{"x":0.075,"y":0.105},{"x":0.076,"y":0.098},{"x":0.077,"y":0.115},{"x":0.077,"y":0.088},{"x":0.078,"y":0.102},{"x":0.079,"y":0.095},{"x":0.08,"y":0.09},{"x":0.058,"y":0.06},{"x":0.059,"y":0.065},{"x":0.062,"y":0.062},{"x":0.066,"y":0.064},{"x":0.066,"y":0.07},{"x":0.043,"y":0.06},{"x":0.047,"y":0.058},{"x":0.052,"y":0.066},{"x":0.056,"y":0.068},{"x":0.048,"y":0.099},{"x":0.045,"y":0.099},{"x":0.042,"y":0.098},{"x":0.047,"y":0.116},{"x":0.05,"y":0.117},
      {"x":0.07,"y":0.067},{"x":0.072,"y":0.068},{"x":0.074,"y":0.066},{"x":0.075,"y":0.064},{"x":0.076,"y":0.062},{"x":0.077,"y":0.063},{"x":0.079,"y":0.067},{"x":0.081,"y":0.068},{"x":0.083,"y":0.067},{"x":0.085,"y":0.068},{"x":0.087,"y":0.07},{"x":0.089,"y":0.072},{"x":0.09,"y":0.071},{"x":0.091,"y":0.069},{"x":0.092,"y":0.068},{"x":0.093,"y":0.069},
      {"x":0.081,"y":0.101},{"x":0.082,"y":0.094},{"x":0.084,"y":0.093},{"x":0.085,"y":0.104},{"x":0.086,"y":0.094},{"x":0.088,"y":0.093},{"x":0.09,"y":0.096},{"x":0.091,"y":0.088},{"x":0.092,"y":0.09},{"x":0.093,"y":0.092},{"x":0.094,"y":0.098},{"x":0.095,"y":0.1},{"x":0.096,"y":0.1},{"x":0.097,"y":0.104},{"x":0.098,"y":0.108},{"x":0.082,"y":0.13},{"x":0.084,"y":0.13},{"x":0.09,"y":0.123},{"x":0.092,"y":0.12},{"x":0.1,"y":0.124},{"x":0.102,"y":0.124},{"x":0.09,"y":0.112},{"x":0.091,"y":0.105},{"x":0.079,"y":0.081},
      {"x":0.104,"y":0.092},{"x":0.105,"y":0.117},{"x":0.107,"y":0.118},{"x":0.109,"y":0.118},{"x":0.11,"y":0.116},{"x":0.111,"y":0.112},{"x":0.112,"y":0.108},{"x":0.113,"y":0.103},{"x":0.108,"y":0.09},{"x":0.11,"y":0.09},{"x":0.111,"y":0.093},{"x":0.116,"y":0.09},{"x":0.104,"y":0.064},{"x":0.107,"y":0.065},{"x":0.108,"y":0.069},{"x":0.114,"y":0.117},{"x":0.117,"y":0.118},{"x":0.122,"y":0.108},{"x":0.124,"y":0.106},{"x":0.126,"y":0.116},{"x":0.128,"y":0.113},{"x":0.13,"y":0.113},{"x":0.132,"y":0.114},{"x":0.134,"y":0.117},{"x":0.135,"y":0.093},{"x":0.137,"y":0.092},{"x":0.139,"y":0.088},{"x":0.141,"y":0.088},{"x":0.142,"y":0.09},{"x":0.147,"y":0.114},{"x":0.148,"y":0.112},{"x":0.149,"y":0.107},{"x":0.15,"y":0.107},{"x":0.15,"y":0.101},{"x":0.117,"y":0.097}
    ]
  },
  "hconcat": [
    {
      "vconcat": [
        {
          "width": 526, "height": 160,
          "title": {"text": "15/10/16 TBS SLWC and MWR-calculated SLWC", "offset": -7},
          "encoding": {
            "x": {"field": "t", "type": "quantitative", "scale": {"domain": [18, 24], "nice": false, "zero": false},
                  "axis": {"title": null, "values": [18,18.5,19,19.5,20,20.5,21,21.5,22,22.5,23,23.5,24],
                           "labelExpr": "datum.value % 1 == 0 ? (datum.value % 24 < 10 ? '0' : '') + (datum.value % 24) + ':00' : ''"}},
            "y": {"field": "v", "type": "quantitative", "scale": {"domain": [0, 0.25], "nice": false},
                  "axis": {"title": "SLWC (g m⁻³)", "values": [0,0.05,0.1,0.15,0.2,0.25], "format": ".2~f", "titlePadding": 50}}
          },
          "layer": [
            {"data": {"name": "a_mwr"}, "mark": {"type": "line", "strokeWidth": 0.8, "clip": true},
             "encoding": {
               "color": {"datum": "MWR-calculated SLWC", "scale": {"domain": ["MWR-calculated SLWC", "TBS SLWC"], "range": ["#ff0000", "#0000ff"]},
                         "legend": {"title": null, "orient": "none", "legendX": 35, "legendY": 8, "symbolSize": 506, "labelOffset": 16, "rowPadding": 6}},
               "strokeDash": {"datum": "MWR-calculated SLWC", "scale": {"domain": ["MWR-calculated SLWC", "TBS SLWC"], "range": [[2, 2], [1, 0]]},
                         "legend": {"title": null, "orient": "none", "legendX": 35, "legendY": 8, "symbolSize": 506, "labelOffset": 16, "rowPadding": 6}}
             }},
            {"data": {"name": "a_mwr"}, "mark": {"type": "point", "shape": "M-1,0H1M0,-1V1M-0.7,-0.7L0.7,0.7M-0.7,0.7L0.7,-0.7", "size": 20, "strokeWidth": 1, "color": "#ff0000", "filled": false, "opacity": 1, "clip": true}},
            {"data": {"name": "a_tbs"}, "mark": {"type": "line", "strokeWidth": 2.5, "clip": true},
             "encoding": {"color": {"datum": "TBS SLWC"}, "strokeDash": {"datum": "TBS SLWC"}}},
            {"data": {"name": "a_tbs"}, "mark": {"type": "point", "shape": "circle", "size": 10, "filled": true, "color": "#0000ff", "opacity": 1}},
            {"data": {"values": [{}]}, "mark": {"type": "text", "fontSize": 16, "fontWeight": "bold", "color": "black"},
             "encoding": {"x": {"datum": 23.75}, "y": {"datum": 0.222}, "text": {"value": "(a)"}}}
          ]
        },
        {
          "width": 526, "height": 160,
          "title": {"text": "15/10/16 TBS Anasphere SLWC sonde altitude", "offset": -8},
          "encoding": {
            "x": {"field": "t", "type": "quantitative", "scale": {"domain": [18, 24], "nice": false, "zero": false},
                  "axis": {"title": null, "values": [18,18.5,19,19.5,20,20.5,21,21.5,22,22.5,23,23.5,24],
                           "labelExpr": "datum.value % 1 == 0 ? (datum.value % 24 < 10 ? '0' : '') + (datum.value % 24) + ':00' : ''"}},
            "y": {"field": "v", "type": "quantitative", "scale": {"domain": [0, 2000], "nice": false},
                  "axis": {"title": ["TBS SLWC altitude", "(m a.g.l.)"], "values": [0, 1000, 2000], "format": "d", "titlePadding": 18}}
          },
          "layer": [
            {"data": {"name": "b_ceil"}, "mark": {"type": "line", "strokeWidth": 1.2, "clip": true},
             "encoding": {
               "detail": {"field": "g"},
               "color": {"datum": "Ceilometer lowest cloud base altitude", "scale": {"domain": ["TBS SLWC altitude", "Ceilometer lowest cloud base altitude"], "range": ["#262626", "#ff00ff"]},
                         "legend": {"title": null, "orient": "none", "legendX": 153, "legendY": 1, "symbolSize": 756, "labelOffset": 14}}
             }},
            {"data": {"name": "b_tbs"}, "mark": {"type": "line", "strokeWidth": 1.2, "clip": true},
             "encoding": {"color": {"datum": "TBS SLWC altitude"}}},
            {"data": {"values": [{}]}, "mark": {"type": "text", "fontSize": 16, "fontWeight": "bold", "color": "black"},
             "encoding": {"x": {"datum": 23.8}, "y": {"datum": 1850}, "text": {"value": "(b)"}}}
          ]
        },
        {
          "width": 526, "height": 160,
          "title": {"text": "20/10/16 TBS SLWC and MWR-calculated SLWC", "offset": -10},
          "encoding": {
            "x": {"field": "t", "type": "quantitative", "scale": {"domain": [18.5, 24], "nice": false, "zero": false},
                  "axis": {"title": null, "values": [18.5,19,19.5,20,20.5,21,21.5,22,22.5,23,23.5,24],
                           "labelExpr": "datum.value % 1 == 0.5 ? floor(datum.value) + ':30:00' : ''"}},
            "y": {"field": "v", "type": "quantitative", "scale": {"domain": [0, 0.15], "nice": false},
                  "axis": {"title": "SLWC (g m⁻³)", "values": [0, 0.05, 0.1, 0.15], "format": ".2~f", "titlePadding": 44}}
          },
          "layer": [
            {"data": {"name": "d_tbs"}, "mark": {"type": "line", "strokeWidth": 2.5, "clip": true},
             "encoding": {
               "color": {"datum": "TBS SLWC", "scale": {"domain": ["TBS SLWC", "MWR-calculated SLWC"], "range": ["#0000ff", "#ff0000"]},
                         "legend": {"title": null, "orient": "none", "legendX": 324, "legendY": 9, "symbolSize": 625, "labelOffset": 17, "labelExpr": "datum.label == 'MWR-calculated SLWC' ? ['MWR-calculated', ' SLWC'] : datum.label"}},
               "strokeDash": {"datum": "TBS SLWC", "scale": {"domain": ["TBS SLWC", "MWR-calculated SLWC"], "range": [[1, 0], [2, 2]]},
                         "legend": {"title": null, "orient": "none", "legendX": 324, "legendY": 9, "symbolSize": 625, "labelOffset": 17, "labelExpr": "datum.label == 'MWR-calculated SLWC' ? ['MWR-calculated', ' SLWC'] : datum.label"}}
             }},
            {"data": {"name": "d_tbs"}, "mark": {"type": "point", "shape": "circle", "size": 10, "filled": true, "color": "#0000ff", "opacity": 1}},
            {"data": {"name": "d_mwr"}, "mark": {"type": "line", "strokeWidth": 0.8, "clip": true},
             "encoding": {"color": {"datum": "MWR-calculated SLWC"}, "strokeDash": {"datum": "MWR-calculated SLWC"}}},
            {"data": {"name": "d_mwr"}, "mark": {"type": "point", "shape": "M-1,0H1M0,-1V1M-0.7,-0.7L0.7,0.7M-0.7,0.7L0.7,-0.7", "size": 20, "strokeWidth": 1.2, "color": "#ff0000", "filled": false, "opacity": 1}},
            {"data": {"values": [{}]}, "mark": {"type": "text", "fontSize": 16, "fontWeight": "bold", "color": "black"},
             "encoding": {"x": {"datum": 23.8}, "y": {"datum": 0.137}, "text": {"value": "(d)"}}}
          ]
        },
        {
          "width": 526, "height": 160,
          "title": {"text": "20/10/16 TBS Anasphere SLWC sonde altitude", "offset": -8},
          "encoding": {
            "x": {"field": "t", "type": "quantitative", "scale": {"domain": [18.5, 24], "nice": false, "zero": false},
                  "axis": {"title": "Time (GMT)", "titlePadding": 10, "values": [18.5,19,19.5,20,20.5,21,21.5,22,22.5,23,23.5,24],
                           "labelExpr": "datum.value % 1 == 0.5 ? floor(datum.value) + ':30:00' : ''"}},
            "y": {"field": "v", "type": "quantitative", "scale": {"domain": [0, 2000], "nice": false},
                  "axis": {"title": ["TBS SLWC altitude", "(m a.g.l.)"], "values": [0, 1000, 2000], "format": "d", "titlePadding": 15}}
          },
          "layer": [
            {"data": {"name": "e_ceil"}, "mark": {"type": "line", "strokeWidth": 1.2, "clip": true},
             "encoding": {
               "color": {"datum": "Ceilometer lowest cloud base altitude", "scale": {"domain": ["TBS SLWC altitude", "Ceilometer lowest cloud base altitude"], "range": ["#262626", "#ff00ff"]},
                         "legend": {"title": null, "orient": "none", "legendX": 22, "legendY": 3, "symbolSize": 625, "labelOffset": 17, "labelExpr": "datum.label == 'Ceilometer lowest cloud base altitude' ? ['Ceilometer lowest cloud', 'base altitude'] : datum.label"}}
             }},
            {"data": {"name": "e_tbs"}, "mark": {"type": "line", "strokeWidth": 1.2, "clip": true},
             "encoding": {"color": {"datum": "TBS SLWC altitude"}}},
            {"data": {"values": [{}]}, "mark": {"type": "text", "fontSize": 16, "fontWeight": "bold", "color": "black"},
             "encoding": {"x": {"datum": 23.75}, "y": {"datum": 1780}, "text": {"value": "(e)"}}}
          ]
        }
      ],
      "spacing": 60,
      "bounds": "flush",
      "resolve": {"scale": {"color": "independent", "strokeDash": "independent", "x": "independent", "y": "independent"},
                  "legend": {"color": "independent", "strokeDash": "independent"}}
    },
    {
      "vconcat": [
        {
          "width": 523, "height": 358,
          "title": {"text": "15/10/16 TBS Anasphere SLWC and MWR-derived LWC", "offset": -1},
          "encoding": {
            "x": {"field": "x", "type": "quantitative", "scale": {"domain": [0, 0.25], "nice": false},
                  "axis": {"title": "TBS SLWC (g m⁻³)", "values": [0, 0.05, 0.1, 0.15, 0.2, 0.25], "format": ".2~f", "grid": true, "gridColor": "#e2e2e2"}},
            "y": {"field": "y", "type": "quantitative", "scale": {"domain": [0, 0.25], "nice": false},
                  "axis": {"title": "MWR SLWC (g m⁻³)", "values": [0, 0.05, 0.1, 0.15, 0.2, 0.25], "format": ".2~f", "grid": true, "gridColor": "#e2e2e2", "titlePadding": 24}}
          },
          "layer": [
            {"data": {"name": "c_pts"}, "mark": {"type": "point", "shape": "circle", "size": 12, "filled": true, "color": "#0000ff", "opacity": 1}},
            {"data": {"values": [{}]}, "mark": {"type": "text", "fontSize": 17, "fontWeight": "bold", "color": "black", "align": "left"},
             "encoding": {"x": {"datum": 0.0075}, "y": {"datum": 0.2325}, "text": {"value": "R² = 0.38"}}},
            {"data": {"values": [{}]}, "mark": {"type": "text", "fontSize": 17, "fontWeight": "bold", "color": "black", "align": "left"},
             "encoding": {"x": {"datum": 0.0075}, "y": {"datum": 0.2095}, "text": {"value": "RMSE = 0.04 g m⁻³"}}},
            {"data": {"values": [{}]}, "mark": {"type": "text", "fontSize": 16, "fontWeight": "bold", "color": "black"},
             "encoding": {"x": {"datum": 0.2365}, "y": {"datum": 0.241}, "text": {"value": "(c)"}}}
          ]
        },
        {
          "width": 523, "height": 361,
          "title": {"text": "20/10/16 TBS Anasphere SLWC and MWR-derived LWC", "offset": 15},
          "encoding": {
            "x": {"field": "x", "type": "quantitative", "scale": {"domain": [0, 0.15], "nice": false},
                  "axis": {"title": "TBS SLWC (g m⁻³)", "values": [0, 0.05, 0.1, 0.15], "format": ".2~f", "grid": true, "gridColor": "#e2e2e2"}},
            "y": {"field": "y", "type": "quantitative", "scale": {"domain": [0, 0.156], "nice": false},
                  "axis": {"title": "MWR SLWC (g m⁻³)", "values": [0, 0.05, 0.1, 0.15], "format": ".2~f", "grid": true, "gridColor": "#e2e2e2", "titlePadding": 20}}
          },
          "layer": [
            {"data": {"name": "f_pts"}, "mark": {"type": "point", "shape": "circle", "size": 12, "filled": true, "color": "#0000ff", "opacity": 1}},
            {"data": {"values": [{}]}, "mark": {"type": "text", "fontSize": 17, "fontWeight": "bold", "color": "black", "align": "left"},
             "encoding": {"x": {"datum": 0.0017}, "y": {"datum": 0.1525}, "text": {"value": "R² = 0.79"}}},
            {"data": {"values": [{}]}, "mark": {"type": "text", "fontSize": 17, "fontWeight": "bold", "color": "black", "align": "left"},
             "encoding": {"x": {"datum": 0.0017}, "y": {"datum": 0.1387}, "text": {"value": "RMSE = 0.01 g m⁻³"}}},
            {"data": {"values": [{}]}, "mark": {"type": "text", "fontSize": 16, "fontWeight": "bold", "color": "black"},
             "encoding": {"x": {"datum": 0.142}, "y": {"datum": 0.1487}, "text": {"value": "(f)"}}}
          ]
        }
      ],
      "spacing": 104,
      "bounds": "flush",
      "resolve": {"scale": {"x": "independent", "y": "independent"}}
    }
  ],
  "spacing": 27,
  "resolve": {"scale": {"color": "independent", "strokeDash": "independent", "x": "independent", "y": "independent"},
              "legend": {"color": "independent", "strokeDash": "independent"}}
}
